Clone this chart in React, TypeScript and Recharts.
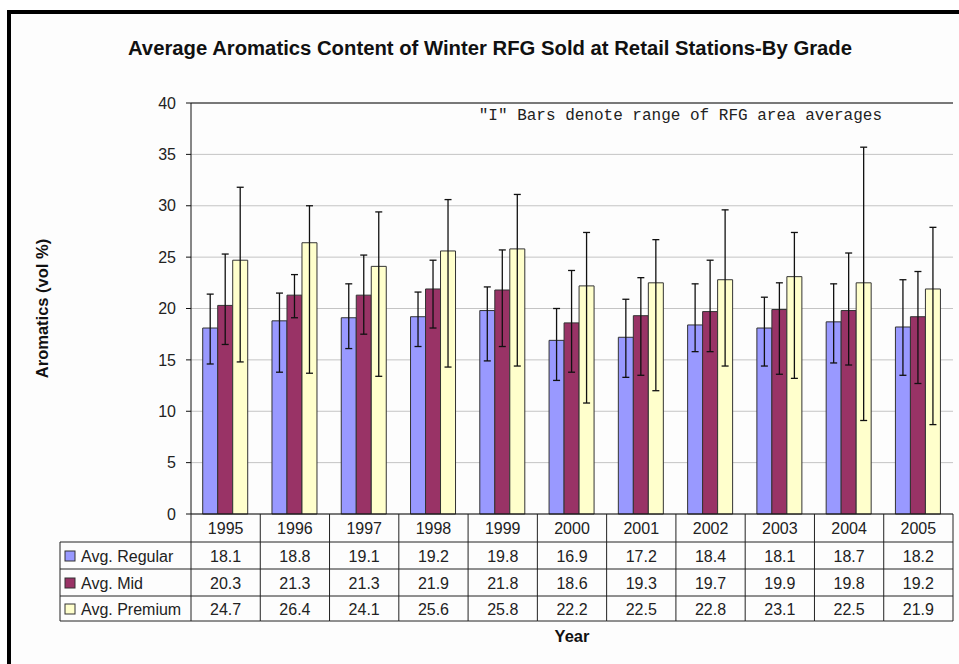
import React from 'react';
import { ComposedChart, Bar, XAxis, YAxis, CartesianGrid, ErrorBar, ReferenceLine } from 'recharts';

const years = ['1995', '1996', '1997', '1998', '1999', '2000', '2001', '2002', '2003', '2004', '2005'];
const avgRegular = [18.1, 18.8, 19.1, 19.2, 19.8, 16.9, 17.2, 18.4, 18.1, 18.7, 18.2];
const avgMid = [20.3, 21.3, 21.3, 21.9, 21.8, 18.6, 19.3, 19.7, 19.9, 19.8, 19.2];
const avgPremium = [24.7, 26.4, 24.1, 25.6, 25.8, 22.2, 22.5, 22.8, 23.1, 22.5, 21.9];

// range of RFG area averages ("I" bars)
const regularLow = [14.6, 13.8, 16.1, 16.3, 14.9, 13.0, 13.3, 15.8, 14.4, 14.7, 13.5];
const regularHigh = [21.4, 21.5, 22.4, 21.6, 22.1, 20.0, 20.9, 22.4, 21.1, 22.4, 22.8];
const midLow = [16.5, 19.1, 17.5, 18.1, 16.3, 13.8, 13.5, 15.8, 13.6, 14.5, 12.7];
const midHigh = [25.3, 23.3, 25.2, 24.7, 25.7, 23.7, 23.0, 24.7, 22.5, 25.4, 23.6];
const premiumLow = [14.8, 13.7, 13.4, 14.3, 14.4, 10.8, 12.0, 14.4, 13.2, 9.1, 8.7];
const premiumHigh = [31.8, 30.0, 29.4, 30.6, 31.1, 27.4, 26.7, 29.6, 27.4, 35.7, 27.9];

const yTicks = [0, 5, 10, 15, 20, 25, 30, 35, 40];
const seriesNames = ['Avg. Regular', 'Avg. Mid', 'Avg. Premium'];
const seriesColors = ['#9999FF', '#993366', '#FFFFCC'];
const seriesValues = [avgRegular, avgMid, avgPremium];

const titleText = 'Average Aromatics Content of Winter RFG Sold at Retail Stations-By Grade';
const noteText = '"I" Bars denote range of RFG area averages';
const yLabelText = 'Aromatics (vol %)';
const xLabelText = 'Year';

const data = years.map((year, i) => ({
  year,
  regular: avgRegular[i],
  mid: avgMid[i],
  premium: avgPremium[i],
  regularErr: [avgRegular[i] - regularLow[i], regularHigh[i] - avgRegular[i]],
  midErr: [avgMid[i] - midLow[i], midHigh[i] - avgMid[i]],
  premiumErr: [avgPremium[i] - premiumLow[i], premiumHigh[i] - avgPremium[i]],
}));

const SANS = '"Liberation Sans", Arial, Helvetica, sans-serif';
const MONO = '"Liberation Mono", "Courier New", monospace';
const LINE = '#222';

// row boundaries (relative to axis line) and text baselines
const rowLines = [28, 55, 82, 107];
const rowBaselines = [20, 48, 75, 101];
const labelColLeft = 131; // distance from first cell's left edge to table left edge

const TableTick = (props: any) => {
  const { x, y, payload, index, width, visibleTicksCount } = props;
  const count = visibleTicksCount || years.length;
  const band = (width || 762) / count;
  const half = band / 2;
  const i = typeof payload?.index === 'number' ? payload.index : index;
  const left = x - half;
  const right = x + half;
  const bottom = y + rowLines[rowLines.length - 1];
  return (
    <g>
      <text x={x} y={y + rowBaselines[0]} textAnchor="middle" fontFamily={SANS} fontSize={16} fill="#222">
        {payload.value}
      </text>
      {seriesValues.map((vals, r) => (
        <text key={r} x={x} y={y + rowBaselines[r + 1]} textAnchor="middle" fontFamily={SANS} fontSize={16} fill="#222">
          {vals[i].toFixed(1)}
        </text>
      ))}
      <line x1={right} y1={y} x2={right} y2={bottom} stroke={LINE} strokeWidth={1} />
      {rowLines.map((ry, k) => (
        <line key={k} x1={left} y1={y + ry} x2={right} y2={y + ry} stroke={LINE} strokeWidth={1} />
      ))}
      {i === 0 && (
        <g>
          <line x1={left} y1={y} x2={left} y2={bottom} stroke={LINE} strokeWidth={1} />
          <line x1={left - labelColLeft} y1={y + rowLines[0]} x2={left - labelColLeft} y2={bottom} stroke={LINE} strokeWidth={1} />
          {rowLines.map((ry, k) => (
            <line key={k} x1={left - labelColLeft} y1={y + ry} x2={left} y2={y + ry} stroke={LINE} strokeWidth={1} />
          ))}
          {seriesNames.map((name, r) => (
            <g key={name}>
              <rect
                x={left - labelColLeft + 5}
                y={y + rowBaselines[r + 1] - 11}
                width={10}
                height={10}
                fill={seriesColors[r]}
                stroke="#333"
                strokeWidth={1}
              />
              <text x={left - labelColLeft + 21} y={y + rowBaselines[r + 1]} fontFamily={SANS} fontSize={16} fill="#222">
                {name}
              </text>
            </g>
          ))}
        </g>
      )}
    </g>
  );
};

const YLabel = (props: any) => {
  const vb = props.viewBox || { x: 0, y: 103, width: 191, height: 411 };
  const cx = vb.x + 42;
  const cy = vb.y + vb.height / 2;
  return (
    <text
      x={cx}
      y={cy}
      transform={`rotate(-90, ${cx}, ${cy})`}
      textAnchor="middle"
      dominantBaseline="central"
      fontFamily={SANS}
      fontWeight="bold"
      fontSize={16.5}
      fill="#111"
    >
      {yLabelText}
    </text>
  );
};

const NoteLabel = (props: any) => {
  const vb = props.viewBox || { x: 191, y: 103, width: 762 };
  return (
    <text
      x={vb.x + vb.width - 71}
      y={vb.y + 17}
      textAnchor="end"
      fontFamily={MONO}
      fontSize={16}
      fill="#222"
    >
      {noteText}
    </text>
  );
};

const XLabel = (props: any) => {
  const vb = props.viewBox || { x: 191, y: 514, width: 762, height: 150 };
  return (
    <text
      x={vb.x + vb.width / 2}
      y={vb.y + 128}
      textAnchor="middle"
      fontFamily={SANS}
      fontWeight="bold"
      fontSize={16.5}
      fill="#111"
    >
      {xLabelText}
    </text>
  );
};

export default function App() {
  return (
    <div style={{ position: 'absolute', left: 0, top: 0, width: 959, height: 664, overflow: 'hidden', background: '#fff' }}>
      <div
        style={{
          position: 'absolute',
          left: 7,
          top: 10,
          width: 1000,
          height: 700,
          borderLeft: '4.5px solid #000',
          borderTop: '4.5px solid #000',
          background: '#fdfdfd',
        }}
      />
      <div
        style={{
          position: 'absolute',
          left: 0,
          top: 36,
          width: 980,
          textAlign: 'center',
          fontFamily: SANS,
          fontWeight: 'bold',
          fontSize: 20.3,
          color: '#111',
          whiteSpace: 'nowrap',
          lineHeight: '24px',
        }}
      >
        {titleText}
      </div>
      <div style={{ position: 'absolute', left: 0, top: 0 }}>
        <ComposedChart
          width={959}
          height={664}
          data={data}
          margin={{ top: 103, right: 6, bottom: 0, left: 0 }}
          barCategoryGap="16.9%"
          barGap={0}
        >
          <CartesianGrid vertical={false} stroke="#c4c4c4" strokeWidth={1} />
          <XAxis
            dataKey="year"
            height={150}
            interval={0}
            tickLine={false}
            tickSize={0}
            tickMargin={0}
            axisLine={{ stroke: '#111', strokeWidth: 1 }}
            tick={<TableTick />}
            label={<XLabel />}
          />
          <YAxis
            width={191}
            domain={[0, 40]}
            ticks={yTicks}
            interval={0}
            tickSize={5}
            tickMargin={10}
            tickLine={{ stroke: '#111' }}
            axisLine={{ stroke: '#111', strokeWidth: 1 }}
            tick={{ fontFamily: SANS, fontSize: 16, fill: '#222' }}
            label={<YLabel />}
          />
          <YAxis
            yAxisId="right"
            orientation="right"
            width={0}
            domain={[0, 40]}
            tick={false}
            tickLine={false}
            axisLine={{ stroke: '#555', strokeWidth: 1 }}
          />
          <ReferenceLine y={40} stroke="#111" strokeWidth={1} label={<NoteLabel />} />
          <Bar dataKey="regular" name={seriesNames[0]} fill={seriesColors[0]} stroke="#333" strokeWidth={1} isAnimationActive={false}>
            <ErrorBar dataKey="regularErr" direction="y" width={3.5} stroke="#111" strokeWidth={1.3} />
          </Bar>
          <Bar dataKey="mid" name={seriesNames[1]} fill={seriesColors[1]} stroke="#333" strokeWidth={1} isAnimationActive={false}>
            <ErrorBar dataKey="midErr" direction="y" width={3.5} stroke="#111" strokeWidth={1.3} />
          </Bar>
          <Bar dataKey="premium" name={seriesNames[2]} fill={seriesColors[2]} stroke="#333" strokeWidth={1} isAnimationActive={false}>
            <ErrorBar dataKey="premiumErr" direction="y" width={3.5} stroke="#111" strokeWidth={1.3} />
          </Bar>
        </ComposedChart>
      </div>
    </div>
  );
}
